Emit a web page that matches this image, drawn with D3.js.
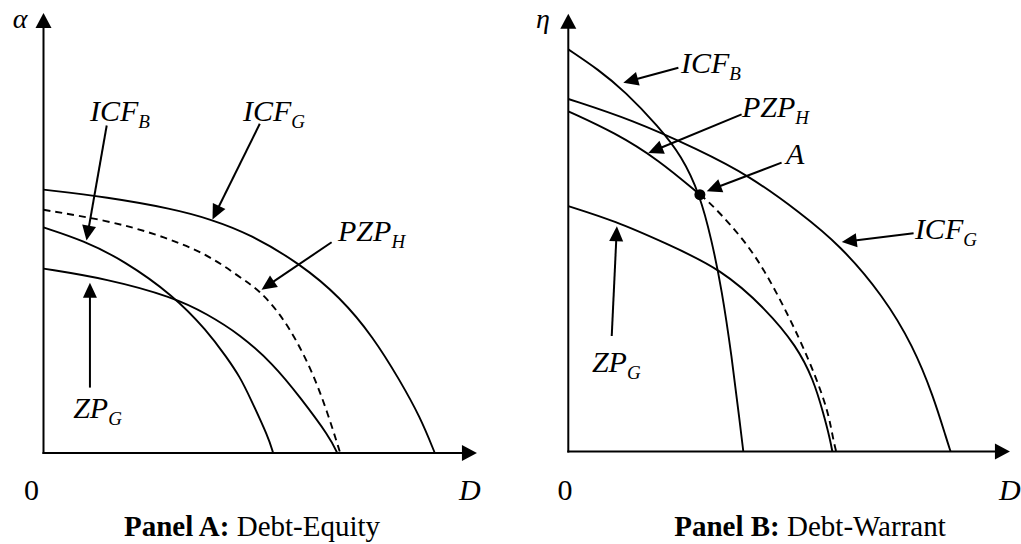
<!DOCTYPE html>
<html>
<head>
<meta charset="utf-8">
<script src="https://cdn.jsdelivr.net/npm/d3@7"></script>
<style>
  body { margin: 0; background: #fff; }
  svg { display: block; }
  text { font-family: "Liberation Serif", "Times New Roman", serif; fill: #000; }
</style>
</head>
<body>
<div id="graph"></div>
<script>
// curve points, [D, value] in arbitrary units
var aICFG = [[0,6.00],[1.47,5.83],[3.02,5.56],[3.87,5.33],[4.80,4.99],[5.97,4.31],[6.90,3.55],[7.67,2.64],[8.29,1.65],[8.76,0.82],[9.10,0]];
var aPZPH = [[0,5.54],[1.47,5.30],[2.63,4.99],[3.80,4.54],[4.57,4.00],[5.03,3.70],[5.50,3.17],[5.89,2.56],[6.27,1.80],[6.59,0.97],[6.90,0]];
var aICFB = [[0,5.14],[0.93,4.84],[1.86,4.39],[3.02,3.59],[3.80,2.79],[4.26,2.18],[4.57,1.73],[4.80,1.27],[5.23,0.36],[5.34,0]];
var aZPG  = [[0,4.20],[1.47,3.97],[3.02,3.55],[3.80,3.17],[4.57,2.70],[5.34,2.03],[5.97,1.27],[6.66,0.36],[6.83,0]];

var bICFB = [[0,9.16],[0.70,8.70],[1.32,8.20],[2.09,7.41],[2.64,6.73],[3.06,5.85],[3.33,4.83],[3.57,3.69],[3.80,2.17],[3.99,0.65],[4.07,0]];
var bICFG = [[0,8.03],[1.47,7.56],[3.02,6.88],[4.23,6.27],[5.39,5.44],[6.32,4.70],[7.33,3.54],[8.02,2.40],[8.49,1.26],[8.80,0.27],[8.89,0]];
var bPZPHsolid = [[0,7.75],[1.09,7.26],[2.09,6.65],[3.06,5.85]];
var bPZPHdash  = [[3.06,5.85],[3.30,5.67],[4.23,4.68],[4.85,3.62],[5.39,2.55],[5.78,1.64],[6.05,0.88],[6.16,0.27],[6.23,0]];
var bZPG  = [[0,5.59],[1.09,5.25],[2.25,4.75],[3.57,4.15],[4.61,3.23],[5.31,2.40],[5.70,1.64],[5.93,0.88],[6.09,0.27],[6.14,0]];
var bPointA = [3.06, 5.85];

// annotation arrows: label, subscript, label position, arrow start, arrow tip
var aNotes = [
  {t:"ICF", s:"B", at:[1.08,7.57], from:[1.47,7.46], to:[1.00,4.84]},
  {t:"ICF", s:"G", at:[4.64,7.57], from:[5.03,7.50], to:[3.93,5.32]},
  {t:"PZP", s:"H", at:[6.85,4.84], from:[6.70,4.80], to:[5.07,3.72]},
  {t:"ZP",  s:"G", at:[0.69,0.79], from:[1.08,1.49], to:[1.08,3.88]}
];
var bNotes = [
  {t:"ICF", s:"B", at:[2.62,8.63], from:[2.56,8.74], to:[1.28,8.40]},
  {t:"PZP", s:"H", at:[4.04,7.61], from:[4.03,7.68], to:[1.86,6.80]},
  {t:"A",   s:"",  at:[5.06,6.54], from:[4.96,6.58], to:[3.22,5.93]},
  {t:"ICF", s:"G", at:[8.06,4.83], from:[8.03,4.97], to:[6.36,4.77]},
  {t:"ZP",  s:"G", at:[0.55,1.82], from:[1.01,2.63], to:[1.13,5.13]}
];

var width = 1021, height = 544;

var svg = d3.select("#graph").append("svg")
    .attr("width", width)
    .attr("height", height);

function head(g, p0, p1, len, hw) {
  // filled triangle with its tip at p1
  var dx = p1[0]-p0[0], dy = p1[1]-p0[1];
  var L = Math.sqrt(dx*dx+dy*dy);
  var ux = dx/L, uy = dy/L;
  var bx = p1[0]-ux*len, by = p1[1]-uy*len;
  g.append("path")
    .attr("d", "M"+p1[0]+","+p1[1]+"L"+(bx-uy*hw)+","+(by+ux*hw)+"L"+(bx+uy*hw)+","+(by-ux*hw)+"Z")
    .attr("fill", "#000");
  return [bx+ux*2, by+uy*2];
}

function drawPanel(cfg) {
  var x = d3.scaleLinear().domain([0,10]).range([cfg.ox, cfg.ox+430]);
  var y = d3.scaleLinear().domain([0,10]).range([cfg.oy, cfg.oy-439]);
  var g = svg.append("g");

  var line = d3.line()
      .x(function(d){ return x(d[0]); })
      .y(function(d){ return y(d[1]); })
      .curve(d3.curveBasis);

  // axes
  var o = [x(0), y(0)];
  var xt = [x(cfg.axEnd[0]), y(0)];
  var yt = [x(0), y(cfg.axEnd[1])];
  var xb = head(g, o, xt, 15, 8);
  var yb = head(g, o, yt, 15, 8);
  g.append("line").attr("x1", o[0]-1).attr("y1", o[1]).attr("x2", xb[0]).attr("y2", xb[1])
    .attr("stroke", "#000").attr("stroke-width", 2);
  g.append("line").attr("x1", o[0]).attr("y1", o[1]+1).attr("x2", yb[0]).attr("y2", yb[1])
    .attr("stroke", "#000").attr("stroke-width", 2);

  cfg.curves.forEach(function(c) {
    g.append("path")
      .attr("d", line(c.pts))
      .attr("fill", "none")
      .attr("stroke", "#000")
      .attr("stroke-width", 1.9)
      .attr("stroke-dasharray", c.dash ? "7,5" : null);
  });

  if (cfg.point) {
    g.append("circle").attr("cx", x(cfg.point[0])).attr("cy", y(cfg.point[1])).attr("r", 5.5).attr("fill", "#000");
  }

  cfg.notes.forEach(function(n) {
    var p0 = [x(n.from[0]), y(n.from[1])], p1 = [x(n.to[0]), y(n.to[1])];
    var b = head(g, p0, p1, 15, 7);
    g.append("line").attr("x1", p0[0]).attr("y1", p0[1]).attr("x2", b[0]).attr("y2", b[1])
      .attr("stroke", "#000").attr("stroke-width", 2);
    var t = g.append("text")
      .attr("x", x(n.at[0])).attr("y", y(n.at[1]))
      .attr("font-size", 30).attr("font-style", "italic");
    t.append("tspan").text(n.t);
    if (n.s) t.append("tspan").attr("font-size", 19).attr("dy", 7).text(n.s);
  });

  // axis labels
  g.append("text").attr("x", cfg.symX).attr("y", 28).attr("font-size", 28)
    .attr("font-style", "italic").attr("text-anchor", "middle").text(cfg.sym);
  g.append("text").attr("x", cfg.zeroX).attr("y", 500).attr("font-size", 30)
    .attr("text-anchor", "middle").text("0");
  g.append("text").attr("x", cfg.dX).attr("y", 500).attr("font-size", 30)
    .attr("font-style", "italic").text("D");

  var tt = g.append("text").attr("x", cfg.titleX).attr("y", 536)
    .attr("font-size", 29).attr("text-anchor", "middle");
  tt.append("tspan").attr("font-weight", "bold").text(cfg.title[0]);
  tt.append("tspan").text(cfg.title[1]);
}

drawPanel({
  ox: 43.5, oy: 453, axEnd: [10.08, 10.02],
  curves: [{pts: aICFG}, {pts: aPZPH, dash: true}, {pts: aICFB}, {pts: aZPG}],
  notes: aNotes, sym: "α", symX: 20, zeroX: 31.5, dX: 459,
  title: ["Panel A:", " Debt-Equity"], titleX: 252
});

drawPanel({
  ox: 568.3, oy: 451.5, axEnd: [10.27, 9.97],
  curves: [{pts: bICFB}, {pts: bICFG}, {pts: bPZPHsolid}, {pts: bPZPHdash, dash: true}, {pts: bZPG}],
  point: bPointA,
  notes: bNotes, sym: "η", symX: 543, zeroX: 565, dX: 999,
  title: ["Panel B:", " Debt-Warrant"], titleX: 810
});
</script>
</body>
</html>
